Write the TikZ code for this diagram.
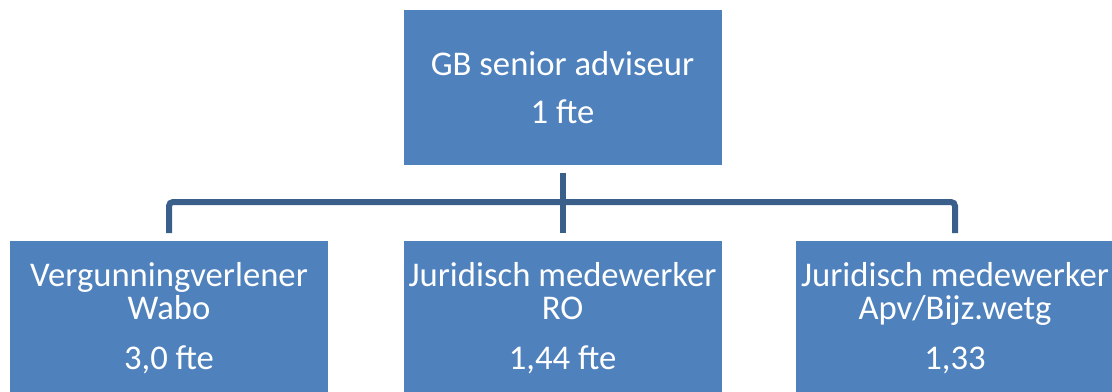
\documentclass[tikz,border=0pt]{standalone}
\usepackage{fontspec}
\setmainfont{Carlito}
\definecolor{boxblue}{RGB}{79,129,189}
\definecolor{linkblue}{RGB}{58,95,139}
\tikzset{every picture/.style={line width=0.75pt}}
\tikzset{
  orgbox/.style={fill=boxblue, draw=none, text=white, inner sep=0pt,
    minimum width=238.5pt, minimum height=116.25pt, align=center,
    font=\fontsize{26}{24.75}\selectfont},
  link/.style={draw=linkblue, line width=4.5pt, rounded corners=3pt,
    shorten <=5.25pt, shorten >=5.25pt}
}

\begin{document}
\begin{tikzpicture}[x=0.75pt,y=0.75pt,yscale=-1,xscale=1]
\useasboundingbox (0,0) rectangle (1112,392);

%Shape: Rectangle (top)
\node [orgbox] (senior) at (562.5,87.5) {GB senior adviseur\\[11.25pt]1 fte};
%Shape: Rectangle (bottom row)
\node [orgbox] (wabo) at (169,318) {Vergunningverlener\\Wabo\\[12.75pt]3,0 fte};
\node [orgbox] (ro) at (562.5,318) {Juridisch medewerker\\RO\\[12.75pt]1,44 fte};
\node [orgbox] (apv) at (955,318) {Juridisch medewerker\\Apv/Bijz.wetg\\[12.75pt]1,33};

%Straight Lines
\coordinate (bus) at (562.5,202);
\draw [link] (senior.south) -- (ro.north);
\draw [link] (wabo.north) |- (bus) -| (apv.north);

\end{tikzpicture}
\end{document}
